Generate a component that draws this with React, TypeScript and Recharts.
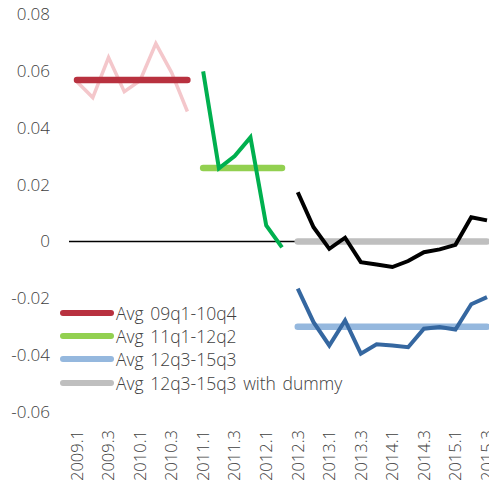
import React from 'react'
import { LineChart, Line, XAxis, YAxis, ReferenceLine } from 'recharts'

const quarters = [
  '2009.1', '2009.2', '2009.3', '2009.4',
  '2010.1', '2010.2', '2010.3', '2010.4',
  '2011.1', '2011.2', '2011.3', '2011.4',
  '2012.1', '2012.2', '2012.3', '2012.4',
  '2013.1', '2013.2', '2013.3', '2013.4',
  '2014.1', '2014.2', '2014.3', '2014.4',
  '2015.1', '2015.2', '2015.3',
]

// 2009q1 - 2010q4
const period1 = [0.0562, 0.0506, 0.0647, 0.0527, 0.0566, 0.0696, 0.0594, 0.0457]
// 2011q1 - 2012q2
const period2 = [0.0598, 0.0257, 0.0300, 0.0366, 0.0056, -0.0021]
// 2012q3 - 2015q3
const period3 = [-0.0166, -0.0284, -0.0366, -0.0278, -0.0395, -0.0362, -0.0366, -0.0372, -0.0307, -0.0301, -0.0310, -0.0221, -0.0196]
const period3Dummy = [0.0173, 0.0050, -0.0026, 0.0013, -0.0073, -0.0081, -0.0090, -0.0069, -0.0038, -0.0028, -0.0012, 0.0085, 0.0074]

const avg1 = 0.0568
const avg2 = 0.0258
const avg3 = -0.0300
const avg3Dummy = 0.0

const yTicks = [-0.06, -0.04, -0.02, 0, 0.02, 0.04, 0.06, 0.08]

const legendItems = [
  { name: 'Avg 09q1-10q4', color: '#B8313F' },
  { name: 'Avg 11q1-12q2', color: '#92D050' },
  { name: 'Avg 12q3-15q3', color: '#95B8DE' },
  { name: 'Avg 12q3-15q3 with dummy', color: '#BFBFBF' },
]

const FONT = '"Open Sans", Lato, sans-serif'

const data = quarters.map((q, i) => {
  const j = i - 8
  const k = i - 14
  return {
    q,
    p1: i < 8 ? period1[i] : null,
    a1: i < 8 ? avg1 : null,
    p2: j >= 0 && j < period2.length ? period2[j] : null,
    a2: j >= 0 && j < period2.length ? avg2 : null,
    p3: k >= 0 ? period3[k] : null,
    a3: k >= 0 ? avg3 : null,
    p3d: k >= 0 ? period3Dummy[k] : null,
    a3d: k >= 0 ? avg3Dummy : null,
  }
})

const XTick = (props: any) => {
  const { x, y, payload } = props
  return (
    <text
      x={x}
      y={y}
      transform={`rotate(-90 ${x} ${y})`}
      textAnchor="end"
      dy="0.35em"
      fontSize={16.5}
      fontFamily={FONT}
      fontWeight={300}
      fill="#404040"
    >
      {payload.value}
    </text>
  )
}

const ChartLegend = () => (
  <div style={{ position: 'absolute', left: 60, top: 301, fontFamily: FONT, fontWeight: 300, fontSize: 17.5, color: '#404040' }}>
    {legendItems.map((item) => (
      <div key={item.name} style={{ display: 'flex', alignItems: 'center', height: 23.3 }}>
        <svg width={54} height={8} style={{ marginRight: 2 }}>
          <line x1={3} y1={4} x2={51} y2={4} stroke={item.color} strokeWidth={6} strokeLinecap="round" />
        </svg>
        <span style={{ whiteSpace: 'nowrap', wordSpacing: 2 }}>{item.name}</span>
      </div>
    ))}
  </div>
)

const common = { dot: false, activeDot: false, isAnimationActive: false, connectNulls: false } as const

const App = () => {
  return (
    <div style={{ margin: -8, position: 'relative', width: 497, height: 490 }}>
      <LineChart width={497} height={490} data={data} margin={{ top: 14, right: 2, left: 0, bottom: 0 }}>
        <XAxis
          dataKey="q"
          interval={1}
          axisLine={false}
          tickLine={false}
          tickSize={0}
          tickMargin={18}
          height={78}
          padding={{ left: 8, right: 8 }}
          tick={<XTick />}
        />
        <YAxis
          domain={[-0.06, 0.08]}
          ticks={yTicks}
          axisLine={false}
          tickLine={false}
          tickSize={0}
          tickMargin={19}
          width={69}
          tickFormatter={(v: number) => (v === 0 ? '0' : v.toFixed(2))}
          tick={{ fontSize: 17, fontFamily: FONT, fontWeight: 300, fill: '#404040' }}
        />
        <ReferenceLine y={0} stroke="#000000" strokeWidth={1.5} />
        <Line dataKey="p1" stroke="#F4C7CB" strokeWidth={3.5} {...common} />
        <Line dataKey="a1" stroke="#B8313F" strokeWidth={6.5} strokeLinecap="round" {...common} />
        <Line dataKey="a2" stroke="#92D050" strokeWidth={6.5} strokeLinecap="round" {...common} />
        <Line dataKey="p2" stroke="#00B04F" strokeWidth={4} {...common} />
        <Line dataKey="a3d" stroke="#BFBFBF" strokeWidth={6.5} strokeLinecap="round" {...common} />
        <Line dataKey="p3d" stroke="#000000" strokeWidth={4} {...common} />
        <Line dataKey="a3" stroke="#95B8DE" strokeWidth={6.5} strokeLinecap="round" {...common} />
        <Line dataKey="p3" stroke="#3567A0" strokeWidth={4} {...common} />
      </LineChart>
      <ChartLegend />
    </div>
  )
}

export default App
